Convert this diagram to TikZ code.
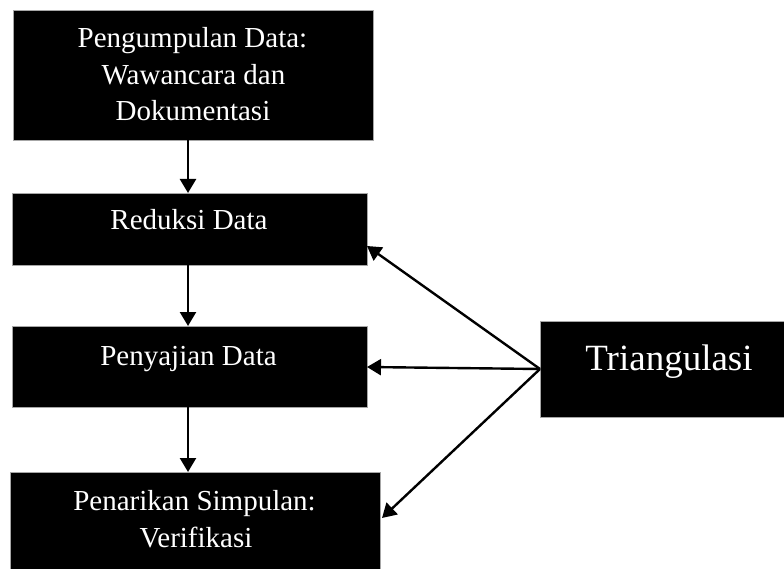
\documentclass[tikz,border=0pt]{standalone}
\usepackage{fontspec}
\setmainfont{Liberation Serif}
\usetikzlibrary{arrows.meta}
\begin{document}
\begin{tikzpicture}[x=1pt,y=-1pt,
  box/.style={draw=gray!70,line width=0.8pt,fill=black,inner sep=0pt,outer sep=0pt},
  txt/.style={text=white,anchor=base,inner sep=0pt,font=\fontsize{29}{35}\selectfont},
  bigtxt/.style={text=white,anchor=base,inner sep=0pt,font=\fontsize{37}{44}\selectfont},
  arr/.style={line width=2.4pt,-{Triangle[length=14pt,width=16pt]}}]
\useasboundingbox (0,0) rectangle (784,569);
% boxes
\node[box,minimum width=360pt,minimum height=130pt] (b1) at (193,75) {};
\node[box,minimum width=355pt,minimum height=72pt] (b2) at (189.5,229) {};
\node[box,minimum width=355pt,minimum height=81pt] (b3) at (189.5,366.5) {};
\node[box,minimum width=370pt,minimum height=103pt] (b4) at (195,523.5) {};
\node[box,minimum width=260pt,minimum height=96pt] (tri) at (670,369) {};
% texts
\node[txt] (t1a) at (192.5,48) {Pengumpulan Data:};
\node[txt] (t1b) at (193.5,85) {Wawancara dan};
\node[txt] (t1c) at (193,121) {Dokumentasi};
\node[txt] (t2) at (189,230) {Reduksi Data};
\node[txt] (t3) at (188.5,365) {Penyajian Data};
\node[txt] (t4a) at (194.5,510) {Penarikan Simpulan:};
\node[txt] (t4b) at (196,547) {Verifikasi};
\node[bigtxt] (t5) at (669,370) {Triangulasi};
% connectors
\coordinate (ax) at (188,0);
\draw[arr] (b1.south -| ax) -- (b2.north -| ax);
\draw[arr] (b2.south -| ax) -- (b3.north -| ax);
\draw[arr] (b3.south -| ax) -- (b4.north -| ax);
\coordinate (p2) at (367,246);
\coordinate (p3) at (367,367);
\coordinate (p4) at (382,518);
\draw[arr] (tri.west) -- (p2);
\draw[arr] (tri.west) -- (p3);
\draw[arr] (tri.west) -- (p4);
\end{tikzpicture}
\end{document}
